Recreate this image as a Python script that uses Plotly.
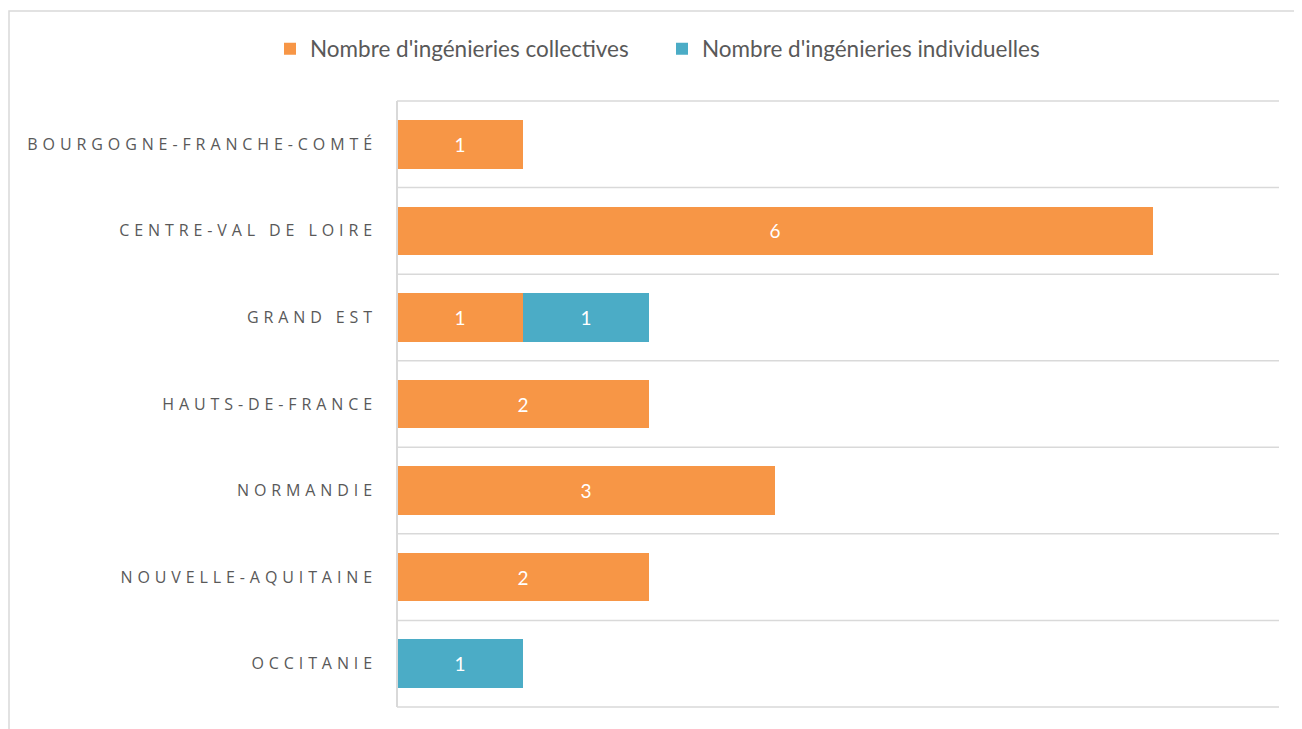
import plotly.graph_objects as go

regions = ["BOURGOGNE-FRANCHE-COMTÉ", "CENTRE-VAL DE LOIRE", "GRAND EST",
           "HAUTS-DE-FRANCE", "NORMANDIE", "NOUVELLE-AQUITAINE", "OCCITANIE"]
collectives = [1, 6, 1, 2, 3, 2, 0]
individuelles = [0, 0, 1, 0, 0, 0, 1]
series_names = ["Nombre d'ingénieries collectives", "Nombre d'ingénieries individuelles"]
colors = ["#F79646", "#4BACC6"]

W, H = 1302, 729
# page body has an 8px margin, so offsets are in figure coordinates
ML, MT = 389, 93
pw, ph = 882, 606
MR, MB = W - ML - pw, H - MT - ph

def txt(vals):
    return [str(v) if v else "" for v in vals]

fig = go.Figure()
for name, vals, col in zip(series_names, [collectives, individuelles], colors):
    fig.add_trace(go.Bar(
        y=regions, x=vals, name=name, orientation="h",
        marker=dict(color=col, line=dict(width=0)),
        text=txt(vals), textposition="inside", insidetextanchor="middle",
        textangle=0, textfont=dict(color="white", size=19, family="Lato"),
        hoverinfo="x+y+name",
    ))

shapes = []
for i in range(len(regions) + 1):
    shapes.append(dict(type="line", xref="paper", yref="paper", x0=0, x1=1,
                       y0=i / len(regions), y1=i / len(regions),
                       line=dict(color="#d9d9d9", width=1.5), layer="below"))
shapes.append(dict(type="line", xref="paper", yref="paper", x0=0, x1=0, y0=0, y1=1,
                   line=dict(color="#d9d9d9", width=2)))
# outer frame
shapes.append(dict(type="rect", xref="paper", yref="paper",
                   x0=(1 - ML) / pw, x1=1.2, y0=-0.2, y1=(MT + ph - 3) / ph,
                   line=dict(color="#d9d9d9", width=1.5), fillcolor="rgba(0,0,0,0)"))

ticktext = ['<span style="letter-spacing:4.9px">%s</span>' % r for r in regions]

fig.update_layout(
    width=W, height=H, barmode="stack", bargap=0.44,
    margin=dict(l=ML, r=MR, t=MT, b=MB, pad=0),
    paper_bgcolor="white", plot_bgcolor="white",
    font=dict(family="Open Sans", color="#595959"),
    xaxis=dict(range=[0, 7], showgrid=False, showticklabels=False, zeroline=False,
               showline=False, ticks=""),
    yaxis=dict(autorange="reversed", tickmode="array", tickvals=regions, ticktext=ticktext,
               tickfont=dict(size=16, color="#595959", family="Open Sans"),
               showgrid=False, showline=False, ticks="", ticklen=0, ticklabelstandoff=19),
    legend=dict(orientation="h", x=(282 - ML - 20) / pw, xanchor="left",
                y=(ph + MT - 41) / ph, yanchor="middle",
                font=dict(size=22.5, family="Lato", color="#595959"),
                itemwidth=30, traceorder="normal", entrywidth=347, entrywidthmode="pixels"),
    shapes=shapes,
    showlegend=True,
)

fig.write_html("out.html")
